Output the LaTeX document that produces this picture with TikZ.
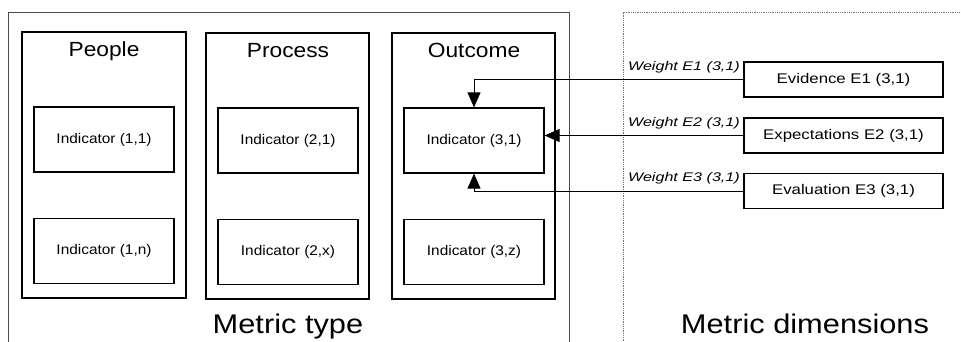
\documentclass[tikz,border=0pt]{standalone}
\usepackage{fontspec}
\setmainfont{Liberation Sans}
\usepackage{graphicx}
\usetikzlibrary{arrows.meta}
\newcommand\TtlT[1]{\scalebox{1.11}[1]{#1}}
\newcommand\IndT[1]{\scalebox{1.1}[1]{#1}}
\newcommand\EviT[1]{\scalebox{1.2}[1]{#1}}
\newcommand\WgtT[1]{\scalebox{1.29}[1]{\itshape #1}}
\newcommand\BigT[1]{\scalebox{1.14}[1]{#1}}
\begin{document}
\begin{tikzpicture}[x=1pt,y=-1pt,
  catbox/.style={draw=black,line width=1.3pt},
  indbox/.style={draw=black,line width=1.2pt,minimum width=140pt,minimum height=65pt,inner sep=0pt,font=\fontsize{14}{15}\selectfont},
  evibox/.style={draw=black,line width=1.2pt,minimum width=199pt,minimum height=35pt,inner sep=0pt,font=\fontsize{14}{15}\selectfont},
  ttl/.style={anchor=base,inner sep=0pt,font=\fontsize{20.5}{21}\selectfont},
  big/.style={anchor=base,inner sep=0pt,font=\fontsize{27}{28}\selectfont},
  wgt/.style={anchor=base east,inner sep=0pt,font=\fontsize{12.5}{13}\selectfont},
  arr/.style={draw=black,line width=0.8pt,-{Triangle[length=15pt,width=13pt]}}
]
\useasboundingbox (0,0) rectangle (961,342);
% outer frames
\draw[draw=black!70,line width=1pt] (8,345) -- (8,13) -- (569,13) -- (569,345);
\draw[draw=black!55,line width=1pt,dash pattern=on 1pt off 0.8pt] (623,345) -- (623,13) -- (965,13);
% category boxes
\draw[catbox] (22,32) rectangle (186,298);
\draw[catbox] (206,33) rectangle (369,299);
\draw[catbox] (392,33) rectangle (555,299);
\node[ttl] (tpeople) at (104,57) {\TtlT{People}};
\node[ttl] (tprocess) at (288,58) {\TtlT{Process}};
\node[ttl] (toutcome) at (474,58) {\TtlT{Outcome}};
% indicators
\node[indbox] (i11) at (104,139.5) {\IndT{Indicator (1,1)}};
\node[indbox] (i1n) at (104,251) {\IndT{Indicator (1,n)}};
\node[indbox] (i21) at (288,140.5) {\IndT{Indicator (2,1)}};
\node[indbox] (i2x) at (288,252) {\IndT{Indicator (2,x)}};
\node[indbox] (i31) at (474,140.5) {\IndT{Indicator (3,1)}};
\node[indbox] (i3z) at (474,252) {\IndT{Indicator (3,z)}};
% dimensions
\node[evibox] (e1) at (843.5,79.5) {\EviT{Evidence E1 (3,1)}};
\node[evibox] (e2) at (843.5,135.5) {\EviT{Expectations E2 (3,1)}};
\node[evibox] (e3) at (843.5,191) {\EviT{Evaluation E3 (3,1)}};
% weights
\node[wgt] (w1) at (740,71) {\WgtT{Weight E1 (3,1)}};
\node[wgt] (w2) at (740,126.5) {\WgtT{Weight E2 (3,1)}};
\node[wgt] (w3) at (740,182) {\WgtT{Weight E3 (3,1)}};
% connectors
\draw[arr] (e1.west) -| (i31.north);
\draw[arr] (e2.west) -- (e2.west -| i31.east);
\draw[arr] (e3.west) -| (i31.south);
% captions
\node[big] (mtype) at (288,333) {\BigT{Metric type}};
\node[big] (mdim) at (805,333) {\BigT{Metric dimensions}};
\end{tikzpicture}
\end{document}
